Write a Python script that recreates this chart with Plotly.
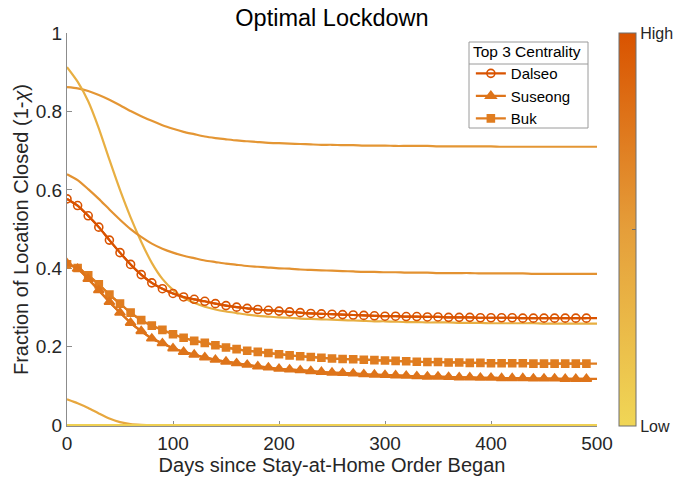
import plotly.graph_objects as go
from plotly.colors import sample_colorscale

# Days since the stay-at-home order, sampled every 10 days
days = list(range(0, 501, 10))

# Top-3 centrality districts
dalseo = [0.577, 0.560, 0.534, 0.505, 0.472, 0.440, 0.410, 0.384, 0.363, 0.348,
          0.336, 0.327, 0.321, 0.316, 0.310, 0.305, 0.301, 0.298, 0.295, 0.293,
          0.291, 0.289, 0.287, 0.285, 0.284, 0.283, 0.282, 0.281, 0.280, 0.279,
          0.278, 0.278, 0.277, 0.277, 0.276, 0.276, 0.275, 0.275, 0.275, 0.274,
          0.274, 0.274, 0.274, 0.273, 0.273, 0.273, 0.273, 0.273, 0.273, 0.273,
          0.273]
suseong = [0.413, 0.399, 0.373, 0.344, 0.314, 0.287, 0.261, 0.240, 0.221, 0.209,
           0.196, 0.187, 0.180, 0.173, 0.167, 0.162, 0.158, 0.154, 0.150, 0.147,
           0.144, 0.142, 0.140, 0.138, 0.136, 0.134, 0.133, 0.132, 0.130, 0.129,
           0.128, 0.127, 0.126, 0.125, 0.124, 0.124, 0.123, 0.122, 0.122, 0.121,
           0.121, 0.120, 0.120, 0.120, 0.119, 0.119, 0.119, 0.118, 0.118, 0.118,
           0.118]
buk = [0.410, 0.401, 0.382, 0.359, 0.333, 0.310, 0.287, 0.268, 0.254, 0.243,
       0.232, 0.223, 0.215, 0.210, 0.204, 0.198, 0.194, 0.190, 0.187, 0.184,
       0.181, 0.178, 0.176, 0.174, 0.172, 0.170, 0.169, 0.168, 0.167, 0.166,
       0.165, 0.164, 0.163, 0.162, 0.161, 0.161, 0.160, 0.160, 0.159, 0.159,
       0.158, 0.158, 0.158, 0.158, 0.157, 0.157, 0.157, 0.157, 0.157, 0.157,
       0.157]

# Remaining districts (unlabelled)
other_a = [0.862, 0.859, 0.852, 0.842, 0.830, 0.816, 0.801, 0.788, 0.776, 0.765,
           0.756, 0.748, 0.742, 0.736, 0.732, 0.729, 0.726, 0.724, 0.722, 0.720,
           0.719, 0.718, 0.717, 0.716, 0.715, 0.715, 0.714, 0.714, 0.713, 0.713,
           0.713, 0.712, 0.712, 0.712, 0.712, 0.711, 0.711, 0.711, 0.711, 0.711,
           0.711, 0.710, 0.710, 0.710, 0.710, 0.710, 0.710, 0.710, 0.710, 0.710,
           0.710]
other_b = [0.913, 0.876, 0.826, 0.757, 0.677, 0.600, 0.530, 0.468, 0.414, 0.373,
           0.345, 0.325, 0.312, 0.302, 0.295, 0.290, 0.286, 0.282, 0.279, 0.277,
           0.275, 0.274, 0.272, 0.271, 0.270, 0.269, 0.268, 0.267, 0.266, 0.265,
           0.265, 0.264, 0.263, 0.263, 0.262, 0.262, 0.262, 0.261, 0.261, 0.261,
           0.260, 0.260, 0.260, 0.260, 0.260, 0.259, 0.259, 0.259, 0.259, 0.259,
           0.259]
other_c = [0.640, 0.625, 0.602, 0.577, 0.550, 0.524, 0.500, 0.480, 0.463, 0.450,
           0.440, 0.432, 0.426, 0.420, 0.416, 0.412, 0.409, 0.406, 0.404, 0.402,
           0.400, 0.399, 0.397, 0.396, 0.395, 0.394, 0.393, 0.392, 0.391, 0.391,
           0.390, 0.390, 0.389, 0.389, 0.389, 0.388, 0.388, 0.388, 0.388, 0.387,
           0.387, 0.387, 0.387, 0.387, 0.386, 0.386, 0.386, 0.386, 0.386, 0.386,
           0.386]
other_d = [0.066, 0.056, 0.044, 0.030, 0.017, 0.008, 0.003, 0.001] + [0.0] * 43
other_e = [0.0] * 51

# Centrality (0 = low, 1 = high) used to colour each curve
centrality_top = {"Dalseo": 1.0, "Suseong": 0.78, "Buk": 0.72}
centrality_other = [0.55, 0.35, 0.58, 0.42, 0.05]

colorscale = [[0.0, "#F0D656"], [0.5, "#E59E3A"], [1.0, "#D95300"]]


def cmap(t):
    return sample_colorscale(colorscale, [t])[0]


fig = go.Figure()

for series, c in zip([other_a, other_b, other_c, other_d, other_e], centrality_other):
    fig.add_trace(go.Scatter(x=days, y=series, mode="lines",
                             line=dict(color=cmap(c), width=2.2, shape="spline",
                                       smoothing=0.6),
                             showlegend=False, hoverinfo="skip"))

top_series = [("Buk", buk, "square", 7, 3),
              ("Suseong", suseong, "triangle-up", 9, 2),
              ("Dalseo", dalseo, "circle-open", 8, 1)]

for name, series, symbol, size, rank in top_series:
    col = cmap(centrality_top[name])
    # full curve to day 500
    fig.add_trace(go.Scatter(x=days, y=series, mode="lines",
                             line=dict(color=col, width=2.2, shape="spline",
                                       smoothing=0.6),
                             showlegend=False, hoverinfo="skip"))
    # markers every 10 days
    fig.add_trace(go.Scatter(x=days[:-1], y=series[:-1], mode="lines+markers",
                             name=name, legendrank=rank,
                             line=dict(color=col, width=2.2, shape="spline",
                                       smoothing=0.6),
                             marker=dict(symbol=symbol, size=size, color=col,
                                         line=dict(color=col, width=1.6))))

# Colour bar for centrality
fig.add_trace(go.Scatter(
    x=[None], y=[None], mode="markers", showlegend=False,
    marker=dict(color=[0], cmin=0, cmax=1, colorscale=colorscale, showscale=True,
                colorbar=dict(x=1.0415, xanchor="left", xpad=0, ypad=0,
                              y=0.5, yanchor="middle", len=1, thickness=17,
                              outlinewidth=1, outlinecolor="#6e6e6e",
                              tickvals=[0, 0.5, 1], ticktext=["Low", "", "High"],
                              ticks="inside", ticklen=4, tickcolor="#6e6e6e",
                              tickfont=dict(size=16, color="#262626")))))

font_family = "Liberation Sans, Arial, sans-serif"
axis_common = dict(showline=True, linecolor="#8c8c8c", linewidth=1,
                   ticks="inside", ticklen=5, tickcolor="#8c8c8c",
                   showgrid=False, zeroline=False, mirror=False,
                   tickfont=dict(size=19, color="#262626"), layer="below traces")

fig.update_layout(
    width=691, height=482,
    margin=dict(l=67, r=94, t=33, b=56),
    paper_bgcolor="white", plot_bgcolor="white",
    font=dict(family=font_family, color="#262626"),
    title=dict(text="Optimal Lockdown", x=0.5, xref="paper", xanchor="center",
               y=1 - 18 / 482, yref="container", yanchor="middle",
               font=dict(size=23.5, color="black")),
    xaxis=dict(range=[0, 500], tickvals=[0, 100, 200, 300, 400, 500],
               title=dict(text="Days since Stay-at-Home Order Began",
                          font=dict(size=20, color="#262626"), standoff=2),
               **axis_common),
    yaxis=dict(range=[-0.002, 1], tickvals=[0, 0.2, 0.4, 0.6, 0.8, 1],
               ticktext=["0", "0.2", "0.4", "0.6", "0.8", "1"],
               title=dict(text="Fraction of Location Closed (1-<i>χ</i>)",
                          font=dict(size=20, color="#262626"), standoff=1),
               **axis_common),
    legend=dict(x=0.762, y=0.99, xanchor="left", yanchor="top",
                bgcolor="rgba(0,0,0,0)", borderwidth=0,
                title=dict(text="Top 3 Centrality", side="top center",
                           font=dict(size=15.5, color="black")),
                font=dict(size=15, color="black"),
                traceorder="normal", itemwidth=30, tracegroupgap=0),
    shapes=[
        dict(type="rect", xref="paper", yref="paper",
             x0=(469 - 67) / 530, x1=(588 - 67) / 530,
             y0=(426 - 128) / 393, y1=(426 - 42) / 393,
             line=dict(color="#9a9a9a", width=1), fillcolor="white", layer="below"),
        dict(type="line", xref="paper", yref="paper",
             x0=(469 - 67) / 530, x1=(588 - 67) / 530,
             y0=(426 - 64) / 393, y1=(426 - 64) / 393,
             line=dict(color="#9a9a9a", width=1), layer="above"),
    ],
)

fig.write_html("out.html")
